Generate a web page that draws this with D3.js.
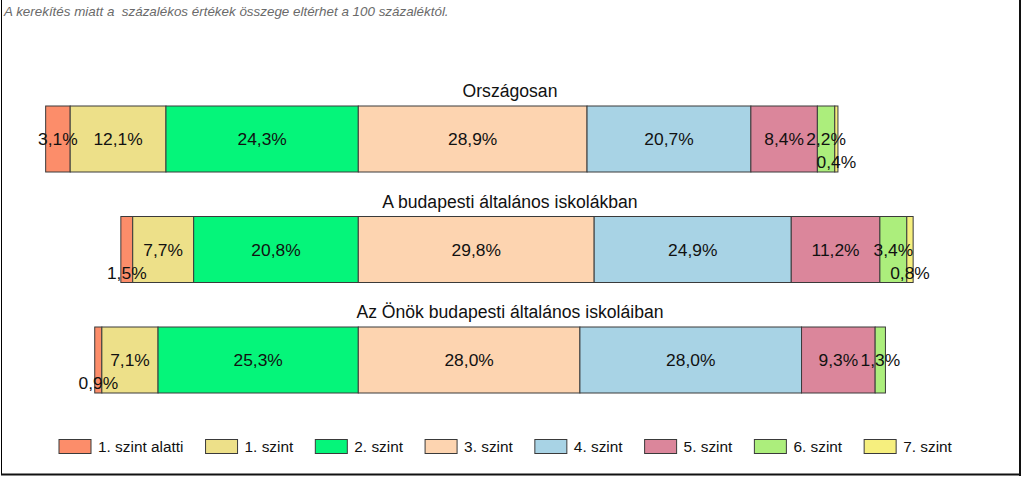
<!DOCTYPE html>
<html><head><meta charset="utf-8">
<script src="https://cdn.jsdelivr.net/npm/d3@7"></script>
<style>
html,body{margin:0;padding:0;background:#fff;}
svg{display:block;font-family:"Liberation Sans",Arial,sans-serif;}
</style></head>
<body>
<svg id="chart" width="1024" height="478"></svg>
<script>
const note = "A kerekítés miatt a  százalékos értékek összege eltérhet a 100 százaléktól.";
const groups = ["Országosan", "A budapesti általános iskolákban", "Az Önök budapesti általános iskoláiban"];
const levels = ["1. szint alatti", "1. szint", "2. szint", "3. szint", "4. szint", "5. szint", "6. szint", "7. szint"];
const colors = ["#FC8D6A", "#EDE089", "#05F57A", "#FDD4B0", "#A8D3E5", "#DB869B", "#ACEE7C", "#F6EF7E"];
const valuesOrszagos = [3.1, 12.1, 24.3, 28.9, 20.7, 8.4, 2.2, 0.4];
const valuesBudapest = [1.5, 7.7, 20.8, 29.8, 24.9, 11.2, 3.4, 0.8];
const valuesOnok = [0.9, 7.1, 25.3, 28.0, 28.0, 9.3, 1.3, 0.0];
const series = [valuesOrszagos, valuesBudapest, valuesOnok];
const splitIndex = 3; // levels before this are drawn to the left of the zero line

const svg = d3.select("#chart");

// frame
svg.append("line").attr("x1",1.5).attr("x2",1.5).attr("y1",0).attr("y2",475).attr("stroke","#000").attr("stroke-width",1);
svg.append("line").attr("x1",1020).attr("x2",1020).attr("y1",0).attr("y2",476).attr("stroke","#111").attr("stroke-width",2);
svg.append("line").attr("x1",1).attr("x2",1021).attr("y1",474.5).attr("y2",474.5).attr("stroke","#111").attr("stroke-width",2);

svg.append("text").attr("x",4).attr("y",16)
  .attr("font-size",13.4).attr("font-style","italic").attr("fill","#6a6a6a")
  .style("white-space","pre").text(note);

const x = d3.scaleLinear().domain([-40, 75]).range([41.7, 41.7 + 115*7.915]);
const barH = 66;
const step = 110.5;
const yTop = (i) => 106 + i*step;

const fmt = v => d3.format(".1f")(v).replace(".", ",") + "%";

groups.forEach((g, gi) => {
  const vals = series[gi];
  const neg = d3.sum(vals.slice(0, splitIndex));
  let start = -neg;
  const segs = vals.map((v, i) => { const s = {v, i, x0: start, x1: start + v}; start += v; return s; });
  const gEl = svg.append("g");
  const top = yTop(gi);
  gEl.append("text").attr("x", 510).attr("y", top - 9).attr("text-anchor","middle")
     .attr("font-size",17.6).attr("fill","#111").text(g);
  gEl.selectAll("rect").data(segs.filter(s => s.v > 0)).join("rect")
     .attr("x", d => x(d.x0)).attr("y", top)
     .attr("width", d => x(d.x1) - x(d.x0)).attr("height", barH)
     .attr("fill", d => colors[d.i]).attr("stroke","#3a3a3a").attr("stroke-width",1);
  const labels = gEl.selectAll("text.lab").data(segs.filter(s => s.v > 0)).join("text")
     .attr("class","lab")
     .attr("x", d => (x(d.x0)+x(d.x1))/2).attr("y", top + barH/2 + 6)
     .attr("text-anchor","middle").attr("font-size",17.4).attr("fill","#111")
     .text(d => fmt(d.v));
  const nodes = labels.nodes();
  const boxes = nodes.map(n => { const w = n.getComputedTextLength(); const cx = +n.getAttribute("x"); return {n, l: cx - w/2, r: cx + w/2, shifted:false}; });
  for (let k = 0; k < boxes.length; k++) {
    const b = boxes[k];
    const prev = boxes[k-1], next = boxes[k+1];
    const overlapPrev = prev && !prev.shifted && prev.r > b.l;
    const overlapNext = next && next.l < b.r && (k === 0);
    if (overlapPrev || overlapNext) {
      b.shifted = true;
      d3.select(b.n).attr("y", top + barH/2 + 29);
    }
  }
});

// legend
const lg = svg.append("g");
let lx = 59;
levels.forEach((l, i) => {
  lg.append("rect").attr("x", lx).attr("y", 439.5).attr("width", 32).attr("height", 14)
    .attr("fill", colors[i]).attr("stroke","#3a3a3a").attr("stroke-width",1);
  const t = lg.append("text").attr("x", lx + 39).attr("y", 452).attr("font-size",15.4).attr("fill","#111").text(l);
  lx = lx + 39 + t.node().getComputedTextLength() + 22;
});
</script>
</body></html>
